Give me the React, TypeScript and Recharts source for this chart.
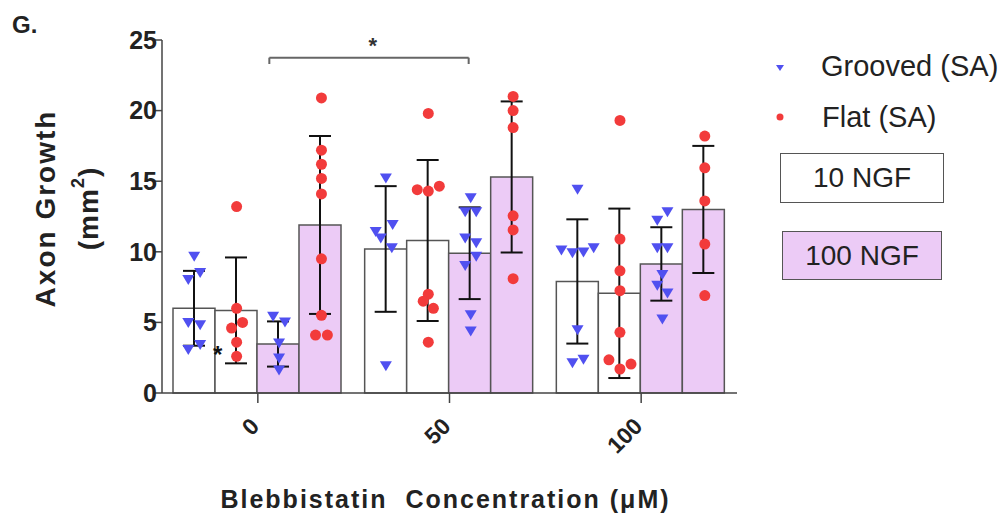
import React from 'react';
import {
  ComposedChart, Bar, ErrorBar, Scatter, XAxis, YAxis, Label, ReferenceLine, ReferenceDot
} from 'recharts';

// blebbistatin concentrations (uM)
const concentrations = ['0', '50', '100'];

// bar means and SD, one value per concentration
const grooved10Mean = [6.0, 10.2, 7.9];
const grooved10Sd = [2.65, 4.45, 4.4];
const flat10Mean = [5.85, 10.8, 7.06];
const flat10Sd = [3.75, 5.7, 6.0];
const grooved100Mean = [3.47, 9.9, 9.14];
const grooved100Sd = [1.6, 3.25, 2.6];
const flat100Mean = [11.9, 15.3, 13.0];
const flat100Sd = [6.3, 5.35, 4.5];

// individual samples: [value, horizontal jitter in bar widths]
const grooved10Pts = [
  [[9.65, 0], [8.5, 0.14], [8.0, -0.14], [4.95, -0.14], [4.8, 0.14], [3.4, 0.14], [3.05, -0.14]],
  [[15.2, 0], [11.9, 0.16], [11.4, -0.24], [10.95, -0.12], [10.25, 0.14], [1.9, 0]],
  [[14.4, 0], [10.25, 0.38], [10.1, -0.38], [9.95, 0.14], [9.9, -0.12], [4.45, 0], [2.35, 0.14], [2.1, -0.12]],
];
const flat10Pts = [
  [[13.2, 0], [6.0, 0], [5.0, 0.14], [4.6, -0.12], [3.6, 0], [2.6, 0]],
  [[19.8, 0], [14.65, 0.26], [14.4, -0.26], [14.3, 0], [7.0, 0], [6.5, -0.12], [6.0, 0.12], [3.6, 0]],
  [[19.3, 0], [10.9, 0], [8.65, 0], [7.25, 0], [4.3, 0], [2.35, -0.26], [2.05, 0.26], [1.7, 0]],
];
const grooved100Pts = [
  [[5.4, -0.14], [5.0, 0.14], [3.5, 0], [2.45, 0], [1.6, 0]],
  [[13.8, 0], [12.8, -0.13], [12.8, 0.13], [10.95, -0.13], [10.6, 0.13], [9.65, 0.13], [9.0, -0.13], [5.5, 0], [4.35, 0]],
  [[12.8, 0.12], [12.2, -0.12], [10.25, -0.12], [10.25, 0.12], [8.35, 0], [7.6, -0.12], [7.05, 0.12], [5.2, 0]],
];
const flat100Pts = [
  [[20.9, 0], [17.2, 0], [16.2, 0], [15.2, 0], [14.1, 0], [9.5, 0], [5.5, 0], [4.1, -0.14], [4.1, 0.14]],
  [[21.0, 0], [20.0, 0], [18.8, 0], [12.55, 0], [11.55, 0], [8.1, 0]],
  [[18.2, 0], [15.95, 0], [13.6, 0], [10.55, 0], [6.9, 0]],
];

const yTicks = [0, 5, 10, 15, 20, 25];

const FONT = '"Liberation Sans", Arial, sans-serif';
const PURPLE = '#ECCBF6';
const BLUE = '#5050F0';
const RED = '#F23B3B';
const BAR_EDGE = '#555';
const BAR_UNIT = 0.2213; // one bar's width in category units

const data = concentrations.map((c, i) => ({
  conc: c,
  g10: grooved10Mean[i], g10Err: grooved10Sd[i],
  f10: flat10Mean[i], f10Err: flat10Sd[i],
  g100: grooved100Mean[i], g100Err: grooved100Sd[i],
  f100: flat100Mean[i], f100Err: flat100Sd[i],
}));

const toPoints = (pts: number[][][], barIndex: number) =>
  pts.flatMap((grp, gi) =>
    grp.map(([v, dx]) => ({ x: gi + (barIndex - 1.5 + dx) * BAR_UNIT, y: v }))
  );

const TriangleDown = (props: any) => {
  const { cx, cy } = props;
  return <polygon points={`${cx - 6},${cy - 5} ${cx + 6},${cy - 5} ${cx},${cy + 5}`} fill={BLUE} />;
};
const Dot = (props: any) => <circle cx={props.cx} cy={props.cy} r={5.5} fill={RED} />;

const XTick = (props: any) => {
  const { x, y, payload } = props;
  return (
    <text x={x - 3} y={y + 17} transform={`rotate(-45, ${x - 3}, ${y + 17})`} textAnchor="end"
      dominantBaseline="central" fontSize={23} fontWeight="bold" fill="#222" fontFamily={FONT}>
      {payload.value}
    </text>
  );
};

const YTitle = (props: any) => {
  const vb = props.viewBox;
  const cy = vb.y + vb.height / 2 - 8;
  return (
    <g fontFamily={FONT} fontWeight="bold" fontSize={28} fill="#222">
      <text x={45} y={cy} transform={`rotate(-90, 45, ${cy})`} textAnchor="middle" dominantBaseline="central" letterSpacing={2}>
        Axon Growth
      </text>
      <text x={88} y={cy} transform={`rotate(-90, 88, ${cy})`} textAnchor="middle" dominantBaseline="central" letterSpacing={1}>
        (mm<tspan fontSize={18} dy={-10}>2</tspan><tspan dy={10}>)</tspan>
      </text>
    </g>
  );
};

const XTitle = (props: any) => {
  const vb = props.viewBox;
  return (
    <text x={vb.x + vb.width / 2 - 4} y={508} textAnchor="middle" fontFamily={FONT} fontWeight="bold"
      fontSize={25} fill="#222" letterSpacing={2} style={{ whiteSpace: 'pre' }}>
      {'Blebbistatin  Concentration (\u03BCM)'}
    </text>
  );
};

const legendText: React.CSSProperties = { position: 'absolute', fontSize: 29, lineHeight: '29px', color: '#222', whiteSpace: 'nowrap' };
const boxStyle: React.CSSProperties = {
  position: 'absolute', boxSizing: 'border-box', border: `1.5px solid ${BAR_EDGE}`, fontSize: 28,
  display: 'flex', alignItems: 'center', justifyContent: 'center', color: '#222',
};

export default function App() {
  return (
    <div style={{ position: 'absolute', left: 0, top: 0, width: 1005, height: 515, background: '#fff', fontFamily: FONT }}>
      <div style={{ position: 'absolute', left: 12, top: 13, fontSize: 24, lineHeight: '24px', fontWeight: 'bold', color: '#222' }}>G.</div>
      <ComposedChart width={1005} height={515} data={data} margin={{ top: 40, right: 268, bottom: 0, left: 0 }}
        barCategoryGap={11} barGap={0}>
        <XAxis xAxisId="cat" dataKey="conc" height={122} interval={0} tick={<XTick />} tickSize={10}
          axisLine={{ stroke: '#444', strokeWidth: 1.5 }} tickLine={{ stroke: '#444', strokeWidth: 1.5 }}>
          <Label content={<XTitle />} />
        </XAxis>
        <XAxis xAxisId="num" dataKey="x" type="number" domain={[-0.5, 2.5]} hide allowDataOverflow />
        <YAxis yAxisId="y" domain={[0, 25]} ticks={yTicks} width={162} tickSize={9} tickMargin={-4}
          tick={{ fontSize: 25, fontWeight: 'bold', fill: '#222', fontFamily: FONT }}
          axisLine={{ stroke: '#444', strokeWidth: 1.5 }} tickLine={{ stroke: '#444', strokeWidth: 1.5 }}>
          <Label content={<YTitle />} />
        </YAxis>

        <Bar xAxisId="cat" yAxisId="y" dataKey="g10" fill="#fff" stroke={BAR_EDGE} strokeWidth={1.5} isAnimationActive={false}>
          <ErrorBar dataKey="g10Err" direction="y" width={11} stroke="#111" strokeWidth={2} />
        </Bar>
        <Bar xAxisId="cat" yAxisId="y" dataKey="f10" fill="#fff" stroke={BAR_EDGE} strokeWidth={1.5} isAnimationActive={false}>
          <ErrorBar dataKey="f10Err" direction="y" width={11} stroke="#111" strokeWidth={2} />
        </Bar>
        <Bar xAxisId="cat" yAxisId="y" dataKey="g100" fill={PURPLE} stroke={BAR_EDGE} strokeWidth={1.5} isAnimationActive={false}>
          <ErrorBar dataKey="g100Err" direction="y" width={11} stroke="#111" strokeWidth={2} />
        </Bar>
        <Bar xAxisId="cat" yAxisId="y" dataKey="f100" fill={PURPLE} stroke={BAR_EDGE} strokeWidth={1.5} isAnimationActive={false}>
          <ErrorBar dataKey="f100Err" direction="y" width={11} stroke="#111" strokeWidth={2} />
        </Bar>

        <Scatter xAxisId="num" yAxisId="y" data={toPoints(grooved10Pts, 0)} dataKey="y" shape={<TriangleDown />} isAnimationActive={false} />
        <Scatter xAxisId="num" yAxisId="y" data={toPoints(flat10Pts, 1)} dataKey="y" shape={<Dot />} isAnimationActive={false} />
        <Scatter xAxisId="num" yAxisId="y" data={toPoints(grooved100Pts, 2)} dataKey="y" shape={<TriangleDown />} isAnimationActive={false} />
        <Scatter xAxisId="num" yAxisId="y" data={toPoints(flat100Pts, 3)} dataKey="y" shape={<Dot />} isAnimationActive={false} />

        {/* significance bracket between 0 and 50 uM */}
        <ReferenceLine xAxisId="num" yAxisId="y" segment={[{ x: 0.06, y: 23.3 }, { x: 0.06, y: 23.75 }]} stroke="#666" strokeWidth={2} />
        <ReferenceLine xAxisId="num" yAxisId="y" segment={[{ x: 0.06, y: 23.75 }, { x: 1.1, y: 23.75 }]} stroke="#666" strokeWidth={2} />
        <ReferenceLine xAxisId="num" yAxisId="y" segment={[{ x: 1.1, y: 23.3 }, { x: 1.1, y: 23.75 }]} stroke="#666" strokeWidth={2} />
        <ReferenceDot xAxisId="num" yAxisId="y" x={0.6} y={24.6} r={0} fill="none" stroke="none"
          label={{ value: '*', position: 'center', fontSize: 22, fontWeight: 'bold', fill: '#333', fontFamily: FONT }} />
        <ReferenceDot xAxisId="num" yAxisId="y" x={-0.21} y={2.7} r={0} fill="none" stroke="none"
          label={{ value: '*', position: 'center', fontSize: 24, fontWeight: 'bold', fill: '#111', fontFamily: FONT }} />
      </ComposedChart>

      {/* legend */}
      <svg style={{ position: 'absolute', left: 774, top: 62 }} width={12} height={12}>
        <polygon points="2,3 10,3 6,9" fill={BLUE} />
      </svg>
      <div style={{ ...legendText, left: 821, top: 52 }}>Grooved (SA)</div>
      <svg style={{ position: 'absolute', left: 774, top: 111 }} width={12} height={12}>
        <circle cx={6} cy={6} r={3.5} fill={RED} />
      </svg>
      <div style={{ ...legendText, left: 822, top: 103 }}>Flat (SA)</div>
      <div style={{ ...boxStyle, left: 780, top: 153, width: 164, height: 50, background: '#fff' }}>10 NGF</div>
      <div style={{ ...boxStyle, left: 782, top: 231, width: 160, height: 49, background: PURPLE }}>100 NGF</div>
    </div>
  );
}
